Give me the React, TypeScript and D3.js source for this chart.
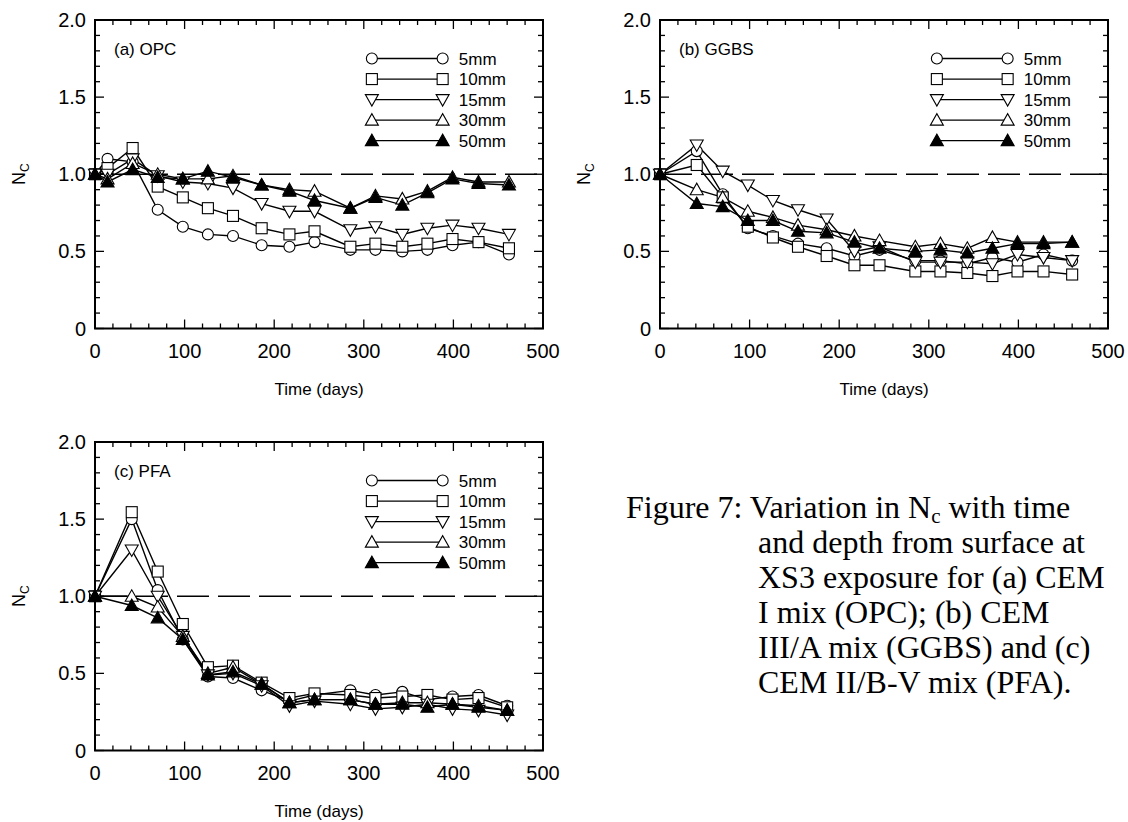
import React from 'react';
import * as d3 from 'd3';

// ---------- data ----------
const timesA = [0, 14, 42, 70, 98, 126, 154, 186, 217, 245, 285, 313, 343, 371, 399, 428, 462];
const timesBC = [0, 41, 70, 98, 126, 154, 186, 217, 245, 285, 313, 343, 371, 399, 428, 460];
const depths = ['5mm', '10mm', '15mm', '30mm', '50mm'];
const markerKinds = ['circle', 'square', 'down', 'up', 'upFilled'];

const opc5 = [1.0, 1.1, 1.08, 0.77, 0.66, 0.61, 0.6, 0.54, 0.53, 0.56, 0.51, 0.51, 0.5, 0.51, 0.54, 0.56, 0.48];
const opc10 = [1.0, 1.04, 1.17, 0.92, 0.85, 0.78, 0.73, 0.65, 0.61, 0.63, 0.53, 0.55, 0.53, 0.55, 0.58, 0.56, 0.52];
const opc15 = [1.0, 1.0, 1.1, 0.99, 0.95, 0.94, 0.91, 0.81, 0.76, 0.76, 0.64, 0.66, 0.61, 0.65, 0.67, 0.65, 0.61];
const opc30 = [1.0, 0.97, 1.07, 1.0, 0.97, 0.97, 0.99, 0.93, 0.9, 0.89, 0.78, 0.86, 0.84, 0.89, 0.98, 0.95, 0.95];
const opc50 = [1.0, 0.95, 1.03, 0.98, 0.97, 1.02, 0.98, 0.93, 0.89, 0.83, 0.78, 0.85, 0.8, 0.88, 0.97, 0.94, 0.93];

const ggbs5 = [1.0, 1.15, 0.87, 0.65, 0.6, 0.55, 0.52, 0.47, 0.51, 0.44, 0.44, 0.42, 0.46, 0.43, 0.48, 0.44];
const ggbs10 = [1.0, 1.06, 0.85, 0.66, 0.59, 0.53, 0.47, 0.41, 0.41, 0.37, 0.37, 0.36, 0.34, 0.37, 0.37, 0.35];
const ggbs15 = [1.0, 1.19, 1.02, 0.93, 0.83, 0.77, 0.71, 0.5, 0.53, 0.43, 0.43, 0.43, 0.42, 0.48, 0.46, 0.44];
const ggbs30 = [1.0, 0.9, 0.85, 0.76, 0.72, 0.67, 0.64, 0.6, 0.57, 0.53, 0.55, 0.52, 0.59, 0.56, 0.56, 0.56];
const ggbs50 = [1.0, 0.81, 0.79, 0.7, 0.7, 0.63, 0.62, 0.56, 0.52, 0.5, 0.51, 0.49, 0.52, 0.55, 0.55, 0.56];

const pfa5 = [1.0, 1.5, 1.04, 0.72, 0.48, 0.47, 0.39, 0.32, 0.36, 0.39, 0.36, 0.38, 0.33, 0.35, 0.36, 0.29];
const pfa10 = [1.0, 1.545, 1.16, 0.82, 0.54, 0.55, 0.44, 0.34, 0.37, 0.36, 0.34, 0.35, 0.36, 0.33, 0.34, 0.28];
const pfa15 = [1.0, 1.3, 1.0, 0.74, 0.49, 0.5, 0.42, 0.29, 0.32, 0.3, 0.27, 0.28, 0.3, 0.27, 0.26, 0.23];
const pfa30 = [1.0, 1.0, 0.93, 0.74, 0.5, 0.54, 0.43, 0.31, 0.33, 0.33, 0.3, 0.31, 0.31, 0.3, 0.29, 0.26];
const pfa50 = [1.0, 0.94, 0.86, 0.72, 0.49, 0.51, 0.43, 0.31, 0.33, 0.33, 0.3, 0.3, 0.28, 0.3, 0.28, 0.26];

const xTickValues = [0, 100, 200, 300, 400, 500];
const yTickValues = [0, 0.5, 1.0, 1.5, 2.0];
const yTickLabels = ['0', '0.5', '1.0', '1.5', '2.0'];
const xLabel = 'Time (days)';

const captionLines = [
  'and depth from surface at',
  'XS3 exposure for (a) CEM',
  'I mix (OPC); (b) CEM',
  'III/A mix (GGBS) and (c)',
  'CEM II/B-V mix (PFA).',
];

// ---------- drawing ----------
const SANS = '"Liberation Sans", Arial, Helvetica, sans-serif';
const SERIF = '"Liberation Serif", "Times New Roman", serif';

function Marker({ kind, x, y }: { kind: string; x: number; y: number }) {
  const sw = 1.1;
  if (kind === 'circle') return <circle cx={x} cy={y} r={5.5} fill="#fff" stroke="#000" strokeWidth={sw} />;
  if (kind === 'square') return <rect x={x - 5.5} y={y - 5.5} width={11} height={11} fill="#fff" stroke="#000" strokeWidth={sw} />;
  if (kind === 'down')
    return <path d={`M${x - 6.5},${y - 5} L${x + 6.5},${y - 5} L${x},${y + 6.5} Z`} fill="#fff" stroke="#000" strokeWidth={sw} />;
  const filled = kind === 'upFilled';
  return <path d={`M${x - 6.5},${y + 5} L${x + 6.5},${y + 5} L${x},${y - 6.5} Z`} fill={filled ? '#000' : '#fff'} stroke="#000" strokeWidth={sw} />;
}

function Panel({ left, top, width, height, label, times, series }: any) {
  const x = d3.scaleLinear().domain([0, 500]).range([left, left + width]);
  const y = d3.scaleLinear().domain([0, 2]).range([top + height, top]);
  const line = d3.line<number>().x((_, i) => x(times[i])).y((d) => y(d));
  const xMinor = d3.range(0, 501, 20);
  const yMinor = d3.range(0, 21).map((v) => v / 10);
  const bottom = top + height;
  const right = left + width;
  const legendRows = depths.map((_, i) => 1.75 - i * 0.133);
  return (
    <g>
      {/* dashed reference */}
      <line x1={x(0)} x2={x(500)} y1={y(1)} y2={y(1)} stroke="#000" strokeWidth={1.3} strokeDasharray="32,9" />
      {/* series */}
      {series.map((s: number[], si: number) => (
        <path key={'l' + si} d={line(s) || ''} fill="none" stroke="#000" strokeWidth={1.4} />
      ))}
      {series.map((s: number[], si: number) => (
        <g key={'m' + si}>
          {s.map((v, i) => (
            <Marker key={i} kind={markerKinds[si]} x={x(times[i])} y={y(v)} />
          ))}
        </g>
      ))}
      {/* ticks */}
      {xMinor.map((t) => {
        const L = t % 100 === 0 ? 9 : 5;
        return (
          <g key={'xt' + t}>
            <line x1={x(t)} x2={x(t)} y1={bottom} y2={bottom - L} stroke="#000" strokeWidth={1.3} />
            <line x1={x(t)} x2={x(t)} y1={top} y2={top + L} stroke="#000" strokeWidth={1.3} />
          </g>
        );
      })}
      {yMinor.map((t, i) => {
        const L = i % 5 === 0 ? 9 : 5;
        return (
          <g key={'yt' + i}>
            <line x1={left} x2={left + L} y1={y(t)} y2={y(t)} stroke="#000" strokeWidth={1.3} />
            <line x1={right} x2={right - L} y1={y(t)} y2={y(t)} stroke="#000" strokeWidth={1.3} />
          </g>
        );
      })}
      <rect x={left} y={top} width={width} height={height} fill="none" stroke="#000" strokeWidth={2} />
      {/* tick labels */}
      {xTickValues.map((t) => (
        <text key={'xl' + t} x={x(t)} y={bottom + 29} textAnchor="middle" fontSize={20} fontFamily={SANS}>
          {t}
        </text>
      ))}
      {yTickValues.map((t, i) => (
        <text key={'yl' + t} x={left - 9} y={y(t) + 7} textAnchor="end" fontSize={20} fontFamily={SANS}>
          {yTickLabels[i]}
        </text>
      ))}
      <text x={(left + right) / 2} y={bottom + 66} textAnchor="middle" fontSize={17} fontFamily={SANS}>
        {xLabel}
      </text>
      <text transform={`translate(${left - 70},${(top + bottom) / 2}) rotate(-90)`} textAnchor="middle" fontSize={18} fontFamily={SANS}>
        N<tspan dy={4} fontSize={12}>C</tspan>
      </text>
      <text x={left + 19} y={top + 35} fontSize={17} fontFamily={SANS}>
        {label}
      </text>
      {/* legend */}
      {depths.map((d, i) => (
        <g key={'lg' + i}>
          <line x1={x(309)} x2={x(388)} y1={y(legendRows[i])} y2={y(legendRows[i])} stroke="#000" strokeWidth={1.4} />
          <Marker kind={markerKinds[i]} x={x(309)} y={y(legendRows[i])} />
          <Marker kind={markerKinds[i]} x={x(388)} y={y(legendRows[i])} />
          <text x={x(406)} y={y(legendRows[i]) + 6} fontSize={17} fontFamily={SANS}>
            {d}
          </text>
        </g>
      ))}
    </g>
  );
}

export default function App() {
  return (
    <svg width={1128} height={822} style={{ position: 'absolute', left: 0, top: 0, background: '#fff' }}>
      <rect width={1128} height={822} fill="#fff" />
      <Panel left={95} top={20} width={448} height={308.5} label="(a) OPC" times={timesA} series={[opc5, opc10, opc15, opc30, opc50]} />
      <Panel left={660} top={20} width={448} height={308.5} label="(b) GGBS" times={timesBC} series={[ggbs5, ggbs10, ggbs15, ggbs30, ggbs50]} />
      <Panel left={95} top={442} width={448} height={308.5} label="(c) PFA" times={timesBC} series={[pfa5, pfa10, pfa15, pfa30, pfa50]} />
      <text x={626} y={518} fontSize={32} fontFamily={SERIF}>
        Figure 7: Variation in N<tspan dy={5} fontSize={21}>c</tspan>
        <tspan dy={-5}> with time</tspan>
      </text>
      {captionLines.map((l, i) => (
        <text key={i} x={758} y={553 + i * 35} fontSize={32} fontFamily={SERIF}>
          {l}
        </text>
      ))}
    </svg>
  );
}
